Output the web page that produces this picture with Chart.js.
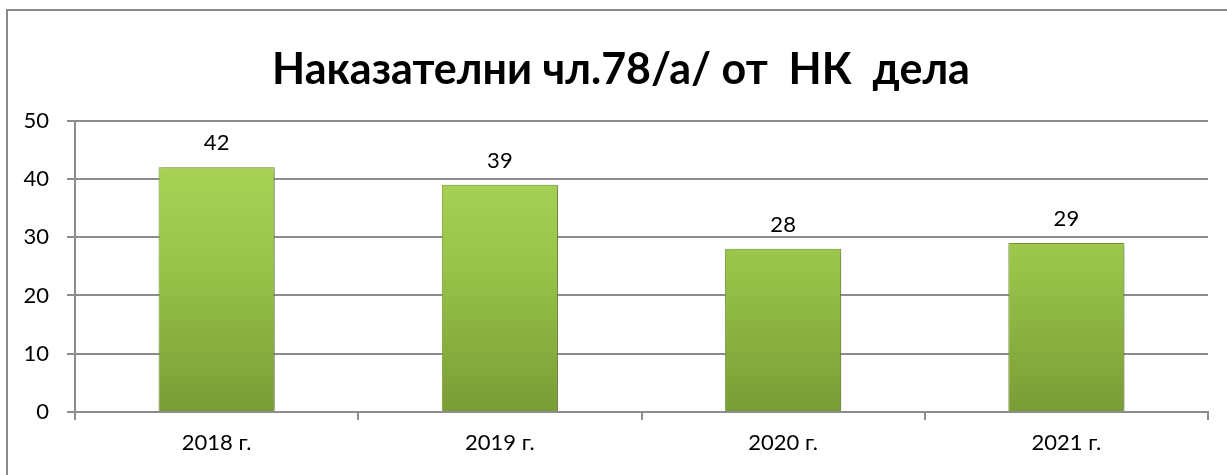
<!DOCTYPE html>
<html>
<head>
<meta charset="utf-8">
<script src="https://cdn.jsdelivr.net/npm/chart.js@4"></script>
<style>
  html, body { margin: 0; padding: 0; background: #fff; overflow: hidden; }
  #frame {
    position: absolute; left: 6px; top: 9px; width: 1400px; height: 600px;
    border-left: 2px solid #8c8c8c; border-top: 2px solid #8c8c8c;
  }
  #wrap { position: absolute; left: 0; top: 0; width: 1227px; height: 475px; }
</style>
</head>
<body>
<div id="frame"></div>
<div id="wrap"><canvas id="chart" width="1227" height="475"></canvas></div>
<script>
const titleText = "Наказателни чл.78/а/ от  НК  дела";
const years = ["2018 г.", "2019 г.", "2020 г.", "2021 г."];
const cases = [42, 39, 28, 29];
const yTicks = [0, 10, 20, 30, 40, 50];

const FONT = "Lato, 'Open Sans', sans-serif";

// value labels above each bar
const valueLabels = {
    id: "valueLabels",
    afterDatasetsDraw(chart) {
        const ctx = chart.ctx;
        const meta = chart.getDatasetMeta(0);
        ctx.save();
        ctx.fillStyle = "#000";
        ctx.font = "22px " + FONT;
        ctx.textAlign = "center";
        ctx.textBaseline = "middle";
        meta.data.forEach((bar, i) => {
            ctx.fillText(String(cases[i]), bar.x, bar.y - 24);
        });
        ctx.restore();
    }
};

// soft shadow behind the bars
const barShadow = {
    id: "barShadow",
    beforeDatasetsDraw(chart) {
        const ctx = chart.ctx;
        ctx.save();
        ctx.shadowColor = "rgba(0,0,0,0.35)";
        ctx.shadowBlur = 5;
        ctx.shadowOffsetX = 2;
        ctx.shadowOffsetY = 1;
    },
    afterDatasetsDraw(chart) {
        chart.ctx.restore();
    }
};

// title sits a little right of the canvas centre in the original
const titleShift = {
    id: "titleShift",
    afterLayout(chart) {
        if (chart.titleBlock) chart.titleBlock.left += 34;
    }
};

function barFill(c) {
    const area = c.chart.chartArea;
    if (!area) return "#93bd46";
    const g = c.chart.ctx.createLinearGradient(0, area.top, 0, area.bottom);
    g.addColorStop(0, "#b0d95c");
    g.addColorStop(0.5, "#98c449");
    g.addColorStop(1, "#7a9c36");
    return g;
}

const ctx = document.getElementById("chart").getContext("2d");

new Chart(ctx, {
    type: "bar",
    data: {
        labels: years,
        datasets: [{
            data: cases,
            backgroundColor: barFill,
            borderColor: "#7f9f3a",
            borderWidth: 1,
            categoryPercentage: 1,
            barPercentage: 0.41
        }]
    },
    options: {
        responsive: false,
        animation: false,
        layout: {
            padding: { left: 0, right: 19, top: 0, bottom: 0 }
        },
        scales: {
            x: {
                offset: true,
                grid: {
                    offset: true,
                    drawOnChartArea: false,
                    drawTicks: true,
                    tickLength: 8,
                    color: "#8c8c8c",
                    lineWidth: 2
                },
                border: { color: "#8c8c8c", width: 2 },
                ticks: {
                    color: "#000",
                    font: { family: FONT, size: 22 },
                    padding: 10,
                    maxRotation: 0
                },
                afterFit(scale) { scale.height = 63; }
            },
            y: {
                min: 0,
                max: 50,
                afterBuildTicks(scale) {
                    scale.ticks = yTicks.map(v => ({ value: v }));
                },
                grid: {
                    color: "#8c8c8c",
                    lineWidth: 2,
                    tickLength: 8
                },
                border: { color: "#8c8c8c", width: 2 },
                ticks: {
                    color: "#000",
                    font: { family: FONT, size: 22 },
                    padding: 18
                },
                afterFit(scale) { scale.width = 75; }
            }
        },
        plugins: {
            legend: { display: false },
            tooltip: { enabled: false },
            title: {
                display: true,
                text: titleText,
                color: "#000",
                font: { family: FONT, size: 43, weight: "bold", lineHeight: 1.2 },
                padding: { top: 44, bottom: 25 }
            }
        }
    },
    plugins: [titleShift, barShadow, valueLabels]
});
</script>
</body>
</html>
